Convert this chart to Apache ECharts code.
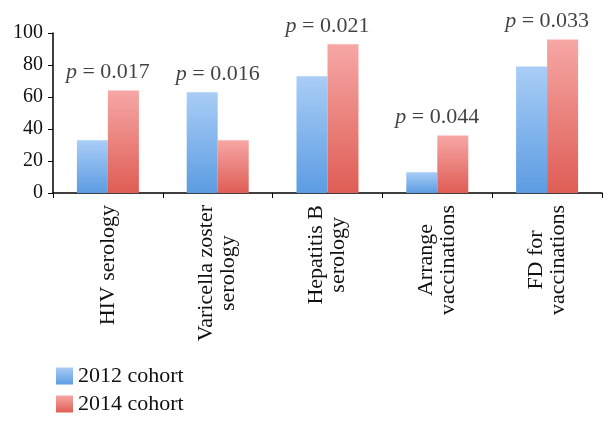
<!DOCTYPE html>
<html><head><meta charset="utf-8">
<script src="https://cdn.jsdelivr.net/npm/echarts@6/dist/echarts.min.js"></script>
<style>html,body{margin:0;padding:0;background:#fff}#c{width:616px;height:426px}</style>
</head><body><div id="c"></div>
<script>
var categories = ['HIV serology', 'Varicella zoster\nserology', 'Hepatitis B\nserology', 'Arrange\nvaccinations', 'FD for\nvaccinations'];
var cohort2012 = [33, 63, 73, 13, 79];
var cohort2014 = [64, 33, 93, 36, 96];
var pValues = ['0.017', '0.016', '0.021', '0.044', '0.033'];
var yTicks = [0, 20, 40, 60, 80, 100];

var FONT = 'Liberation Serif';
function grad(top, bottom) {
  return new echarts.graphic.LinearGradient(0, 0, 0, 1, [{offset: 0, color: top}, {offset: 1, color: bottom}]);
}
var blue = grad('#a9cdf6', '#5c9ce2');
var red = grad('#f6a7a5', '#df5d55');
var pPos = cohort2012.map(function (v, i) { return Math.max(v, cohort2014[i]); });

var chart = echarts.init(document.getElementById('c'), null, {renderer: 'canvas'});
chart.setOption({
  animation: false,
  backgroundColor: '#fff',
  grid: {left: 53, right: 14, top: 33, bottom: 233, containLabel: false},
  legend: {
    data: ['2012 cohort', '2014 cohort'],
    orient: 'vertical', left: 56, top: 364, padding: 0,
    itemWidth: 17, itemHeight: 17, itemGap: 4,
    icon: 'rect',
    textStyle: {fontFamily: FONT, fontSize: 22, color: '#111', lineHeight: 24}
  },
  xAxis: {
    type: 'category', data: categories,
    axisLine: {lineStyle: {color: '#000', width: 1.5}},
    axisTick: {show: true, length: 5, lineStyle: {color: '#000'}},
    axisLabel: {
      rotate: 90, margin: 12, interval: 0,
      formatter: function (v) { return v.split('\n').map(function (l) { return '{c|' + l + '}'; }).join('\n'); },
      rich: {c: {align: 'center', fontFamily: FONT, fontSize: 22, color: '#111', lineHeight: 22}}
    }
  },
  yAxis: {
    type: 'value', min: 0, max: 100, interval: 20,
    axisLine: {show: true, lineStyle: {color: '#000', width: 1.5}},
    axisTick: {show: true, length: 5, lineStyle: {color: '#000'}},
    splitLine: {show: false},
    axisLabel: {margin: 10, fontFamily: FONT, fontSize: 20, color: '#111',
      formatter: function (v) { return yTicks.indexOf(v) >= 0 ? String(v) : ''; }}
  },
  series: [
    {name: '2012 cohort', type: 'bar', data: cohort2012, barWidth: 31, barGap: '0%', itemStyle: {color: blue}},
    {name: '2014 cohort', type: 'bar', data: cohort2014, barWidth: 31, barGap: '0%', itemStyle: {color: red}},
    {name: 'p', type: 'scatter', data: pPos, symbolSize: 0, silent: true,
      label: {show: true, position: 'top', distance: 7,
        formatter: function (p) { return '{i|p} = ' + pValues[p.dataIndex]; },
        fontFamily: FONT, fontSize: 22, color: '#111',
        rich: {i: {fontStyle: 'italic', fontFamily: FONT, fontSize: 22, color: '#111'}}}}
  ]
});
</script></body></html>
